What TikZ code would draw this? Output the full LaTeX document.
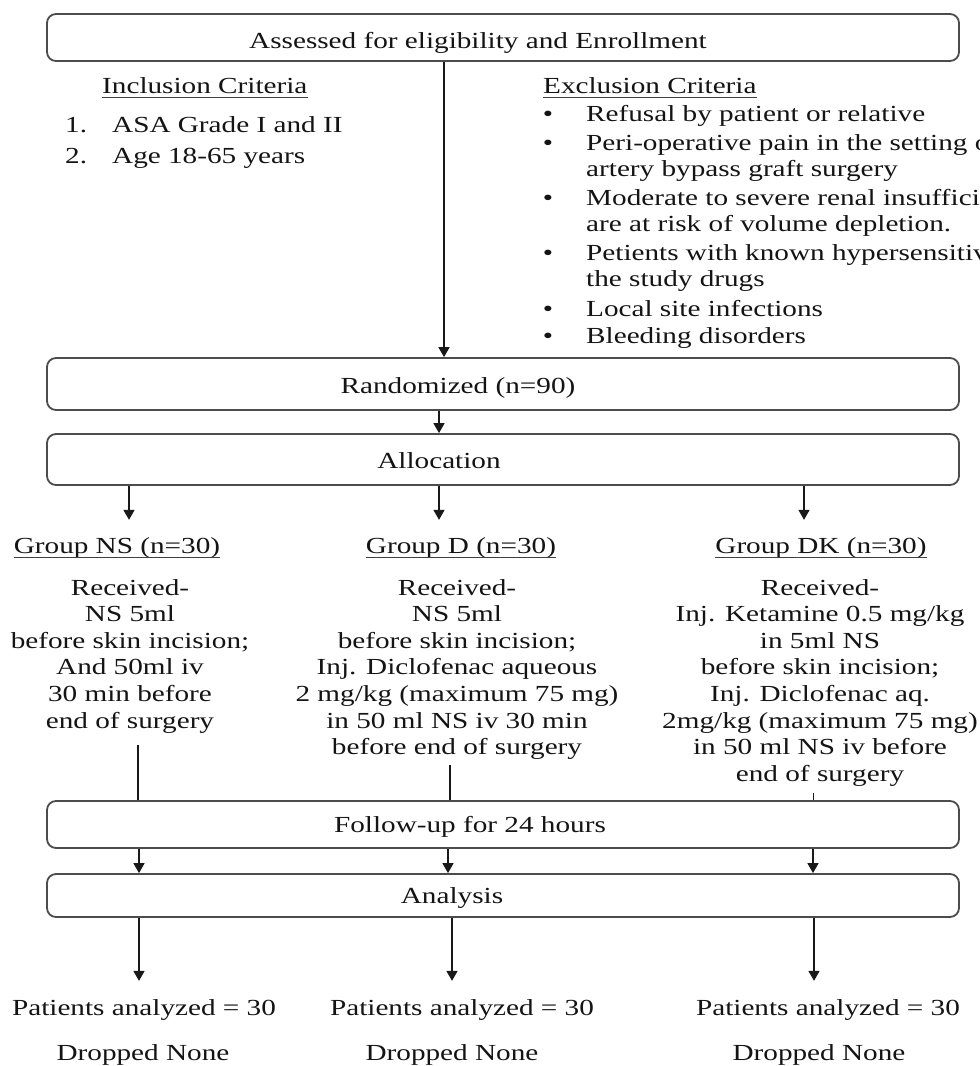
\documentclass[tikz,border=0pt]{standalone}
\usepackage{fontspec}
\setmainfont[FakeStretch=1.27]{Liberation Serif}
\usetikzlibrary{arrows.meta}
\begin{document}
\begin{tikzpicture}[x=1pt,y=-1pt,
  box/.style={draw=black!70, line width=1.8pt, rounded corners=9pt, minimum width=912pt, inner sep=0pt},
  txt/.style={inner sep=0pt, text=black!92, font=\fontsize{23}{26.6}\selectfont},
  blk/.style={txt, align=center, anchor=north},
  arr/.style={draw=black!90, line width=1.5pt, -{Triangle[length=10pt,width=11pt]}},
  ln/.style={draw=black!90, line width=1.5pt},
  ul/.style={draw=black!75, line width=1.4pt}]
\path[use as bounding box, fill=white] (0,0) rectangle (980,1066);

% boxes
\node[box, minimum height=47pt] (b1) at (503,37.5) {};
\node[box, minimum height=52pt] (b2) at (503,384) {};
\node[box, minimum height=51pt] (b3) at (503,459.5) {};
\node[box, minimum height=47pt] (b4) at (503,824.5) {};
\node[box, minimum height=43pt] (b5) at (503,895.5) {};

% box texts
\node[txt, anchor=base] (t1) at (478,48) {Assessed for eligibility and Enrollment};
\node[txt, anchor=base] (t2) at (458,393) {Randomized (n=90)};
\node[txt, anchor=base] (t3) at (439,468) {Allocation};
\node[txt, anchor=base] (t4) at (470,832) {Follow-up for 24 hours};
\node[txt, anchor=base] (t5) at (452,903) {Analysis};

% inclusion
\node[txt, anchor=base west] (inc) at (102,93) {Inclusion Criteria};
\draw[ul] ([yshift=-4.5pt]inc.base west) -- ([yshift=-4.5pt]inc.base east);
\node[txt, anchor=base west] (n1) at (65,132) {1.};
\node[txt, anchor=base west] (i1) at (112,132) {ASA Grade I and II};
\node[txt, anchor=base west] (n2) at (65,163) {2.};
\node[txt, anchor=base west] (i2) at (112,163) {Age 18-65 years};

% exclusion
\begin{scope}
\clip (0,0) rectangle (980,1066);
\node[txt, anchor=base west] (exc) at (543,93) {Exclusion Criteria};
\draw[ul] ([yshift=-4.5pt]exc.base west) -- ([yshift=-4.5pt]exc.base east);
\foreach \yy/\nm in {121/e1,150/e2,205/e3,260/e4,316/e5,343/e6}
  \node[txt, anchor=base] (\nm b) at (548,\yy) {•};
\node[txt, anchor=base west] (x1) at (586,121) {Refusal by patient or relative};
\node[txt, anchor=base west] (x2) at (586,150) {Peri-operative pain in the setting o};
\node[txt, anchor=base west] (x2b) at (586,176) {artery bypass graft surgery};
\node[txt, anchor=base west] (x3) at (586,205) {Moderate to severe renal insuffici};
\node[txt, anchor=base west] (x3b) at (586,231) {are at risk of volume depletion.};
\node[txt, anchor=base west] (x4) at (586,260) {Petients with known hypersensitiv};
\node[txt, anchor=base west] (x4b) at (586,286) {the study drugs};
\node[txt, anchor=base west] (x5) at (586,316) {Local site infections};
\node[txt, anchor=base west] (x6) at (586,343) {Bleeding disorders};
\end{scope}

% groups
\node[txt, anchor=base] (gNS) at (117,553) {Group NS (n=30)};
\node[txt, anchor=base] (gD) at (461,553) {Group D (n=30)};
\node[txt, anchor=base] (gDK) at (821,553) {Group DK (n=30)};
\foreach \g in {gNS,gD,gDK}
  \draw[ul] ([yshift=-4.5pt]\g.base west) -- ([yshift=-4.5pt]\g.base east);

\node[blk] (rNS) at (130,579) {Received-\\NS 5ml\\before skin incision;\\And 50ml iv\\30 min before\\end of surgery};
\node[blk] (rD) at (457,579) {Received-\\NS 5ml\\before skin incision;\\Inj. Diclofenac aqueous\\2 mg/kg (maximum 75 mg)\\in 50 ml NS iv 30 min\\before end of surgery};
\node[blk] (rDK) at (820,579) {Received-\\Inj. Ketamine 0.5 mg/kg\\in 5ml NS\\before skin incision;\\Inj. Diclofenac aq.\\2mg/kg (maximum 75 mg)\\in 50 ml NS iv before\\end of surgery};

% results
\node[txt, anchor=base] (pNS) at (144,1015) {Patients analyzed = 30};
\node[txt, anchor=base] (pD) at (462,1015) {Patients analyzed = 30};
\node[txt, anchor=base] (pDK) at (828,1015) {Patients analyzed = 30};
\node[txt, anchor=base] (dNS) at (143,1060) {Dropped None};
\node[txt, anchor=base] (dD) at (452,1060) {Dropped None};
\node[txt, anchor=base] (dDK) at (819,1060) {Dropped None};

% column coordinates
\coordinate (xa) at (444,0);
\coordinate (xb) at (439,0);
\coordinate (g1) at (129,0);
\coordinate (g2) at (439,0);
\coordinate (g3) at (804,0);
\coordinate (f1) at (139,0);
\coordinate (f2) at (448,0);
\coordinate (f3) at (813,0);
\coordinate (a1) at (139,0);
\coordinate (a2) at (452,0);
\coordinate (a3) at (814,0);
\coordinate (sNS) at (138,745);
\coordinate (sD) at (450,765);
\coordinate (sDK) at (813,793);

% connectors
\draw[arr] (b1.south -| xa) -- (b2.north -| xa);
\draw[arr] (b2.south -| xb) -- (b3.north -| xb);
\draw[arr, shorten >=17pt] (b3.south -| g1) -- (g1 |- gNS.north);
\draw[arr, shorten >=17pt] (b3.south -| g2) -- (g2 |- gD.north);
\draw[arr, shorten >=17pt] (b3.south -| g3) -- (g3 |- gDK.north);
\draw[ln] (sNS) -- (b4.north -| sNS);
\draw[ln] (sD) -- (b4.north -| sD);
\draw[ln, line width=1pt] (sDK) -- (b4.north -| sDK);
\draw[arr] (b4.south -| f1) -- (b5.north -| f1);
\draw[arr] (b4.south -| f2) -- (b5.north -| f2);
\draw[arr] (b4.south -| f3) -- (b5.north -| f3);
\draw[arr, shorten >=18pt] (b5.south -| a1) -- (a1 |- pNS.north);
\draw[arr, shorten >=18pt] (b5.south -| a2) -- (a2 |- pD.north);
\draw[arr, shorten >=18pt] (b5.south -| a3) -- (a3 |- pDK.north);
\end{tikzpicture}
\end{document}
